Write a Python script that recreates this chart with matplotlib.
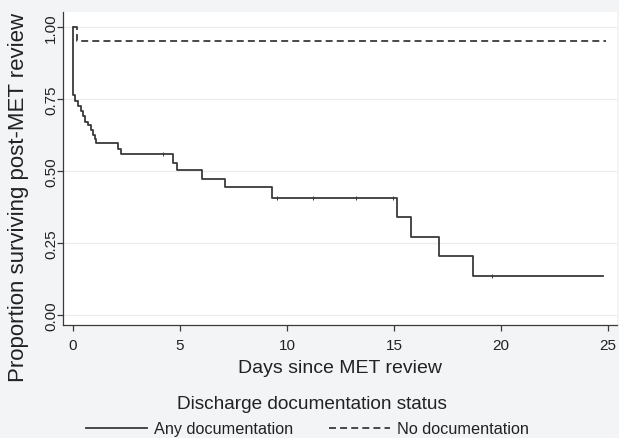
import matplotlib
matplotlib.use("Agg")
import matplotlib.pyplot as plt
from matplotlib.lines import Line2D

plt.rcParams['font.family'] = ['Liberation Sans', 'DejaVu Sans']
plt.rcParams['lines.scale_dashes'] = False

# Kaplan-Meier step data
any_doc_days = [0, 0.02, 0.11, 0.23, 0.36, 0.47, 0.55, 0.70, 0.83, 0.93, 1.01, 1.09,
                2.10, 2.26, 4.69, 4.84, 6.01, 7.10, 9.28, 15.16, 15.79, 17.09, 18.71, 24.75]
any_doc_surv = [1.0, 0.764, 0.742, 0.725, 0.707, 0.690, 0.672, 0.659, 0.641, 0.627, 0.613, 0.599,
                0.578, 0.559, 0.527, 0.503, 0.473, 0.446, 0.408, 0.341, 0.272, 0.204, 0.137, 0.137]
any_doc_cens_days = [4.2, 9.52, 11.23, 13.22, 14.97, 19.6]
any_doc_cens_surv = [0.559, 0.408, 0.408, 0.408, 0.408, 0.137]

no_doc_days = [0, 0.19, 24.9]
no_doc_surv = [1.0, 0.951, 0.951]

x_ticks = [0, 5, 10, 15, 20, 25]
y_ticks = [0.0, 0.25, 0.5, 0.75, 1.0]
y_tick_labels = ["0.00", "0.25", "0.50", "0.75", "1.00"]
series_labels = ["Any documentation", "No documentation"]

line_col = '#3a3a3a'
text_col = '#222222'
bg = '#f3f4f6'
W, H = 619, 439

fig = plt.figure(figsize=(6.19, 4.39), dpi=100, facecolor=bg)
ax = fig.add_axes([0.1018, 0.2574, 0.8950, 0.7126])
ax.set_facecolor('white')

ax.step(any_doc_days, any_doc_surv, where='post', color=line_col, lw=1.3)
ax.plot(any_doc_cens_days, any_doc_cens_surv, ls='none', marker='|', ms=2.5,
        mew=0.7, color=line_col)
ax.step(no_doc_days, no_doc_surv, where='post', color=line_col, lw=1.3,
        ls=(0, (5, 3)))

ax.set_xlim(-0.467, 25.42)
ax.set_ylim(-0.0347, 1.052)
ax.set_xticks(x_ticks)
ax.set_yticks(y_ticks)
ax.set_yticklabels(y_tick_labels, rotation=90, va='center')
ax.tick_params(axis='both', direction='out', length=4.5, width=0.9,
               colors=line_col, labelsize=11, labelcolor=text_col)
ax.tick_params(axis='y', pad=-1)
ax.tick_params(axis='x', pad=5)

for y in y_ticks:
    ax.axhline(y, color='#ececec', lw=0.9, zorder=0)

for s in ['top', 'right']:
    ax.spines[s].set_visible(False)
for s in ['left', 'bottom']:
    ax.spines[s].set_color(line_col)
    ax.spines[s].set_linewidth(0.9)

ax.set_xlabel("Days since MET review", fontsize=14, color=text_col, labelpad=5)
ax.set_ylabel("Proportion surviving post-MET review", fontsize=16, color=text_col,
              va='center')
# axes spans x 63..617 px, y 13..326 px (from top)
ax.yaxis.set_label_coords((18 - 63) / 554, (326 - 197) / 313)

fig.text(312 / W, 1 - 405 / H, "Discharge documentation status", ha='center', va='center',
         fontsize=13.7, color=text_col)

handles = [Line2D([], [], color=line_col, lw=1.3),
           Line2D([], [], color=line_col, lw=1.3, ls=(0, (5, 3)))]
leg = fig.legend(handles, series_labels,
                 loc='center', bbox_to_anchor=(307.5 / W, 1 - 430 / H), ncol=2,
                 frameon=False, fontsize=11.7, handlelength=3.75, handletextpad=0.45,
                 columnspacing=2.2, borderpad=0.0)
for t in leg.get_texts():
    t.set_color(text_col)

fig.savefig("out.png", dpi=100, facecolor=bg)
